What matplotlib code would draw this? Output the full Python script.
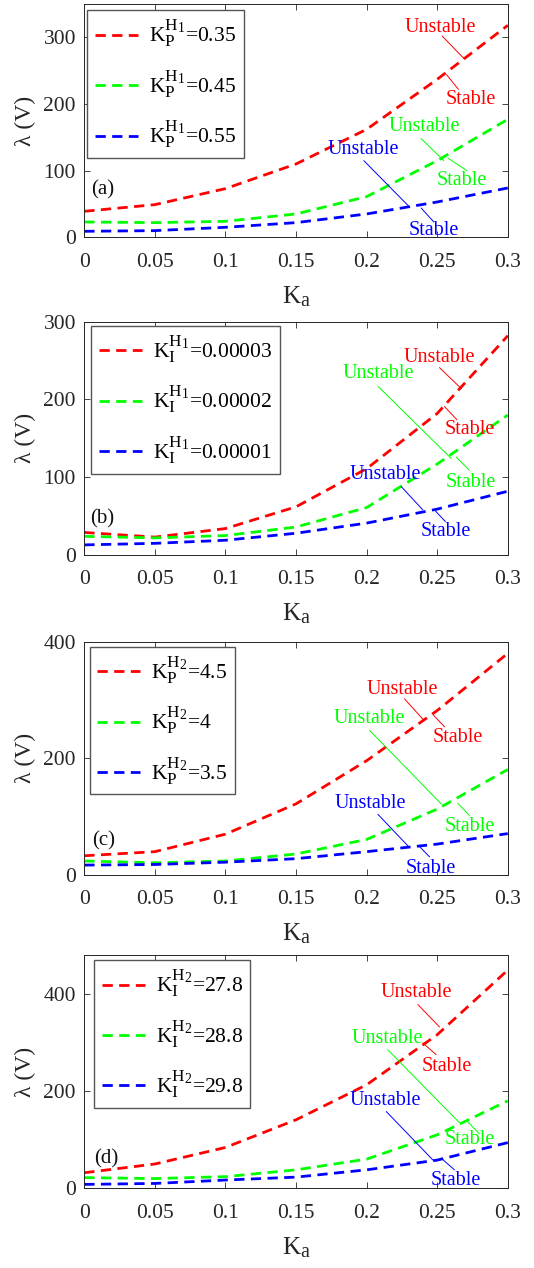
import matplotlib
matplotlib.use("Agg")
import matplotlib.pyplot as plt
import matplotlib._mathtext as _mt

_mt.SHRINK_FACTOR = 0.8

plt.rcParams['font.family'] = ['Liberation Serif', 'DejaVu Serif']
plt.rcParams['mathtext.fontset'] = 'custom'
plt.rcParams['mathtext.rm'] = 'Liberation Serif'
plt.rcParams['mathtext.it'] = 'Liberation Serif:italic'

# ---------------- data ----------------
ka = [0, 0.05, 0.10, 0.15, 0.20, 0.25, 0.30]

a_labels = [r'$\mathrm{K_P^{H_1}}$=0.35', r'$\mathrm{K_P^{H_1}}$=0.45', r'$\mathrm{K_P^{H_1}}$=0.55']
a_red = [39, 49, 73, 110, 162, 237, 318]
a_green = [23, 22, 24, 35, 61, 115, 177]
a_blue = [9, 10, 15, 22, 35, 53, 74]

b_labels = [r'$\mathrm{K_I^{H_1}}$=0.00003', r'$\mathrm{K_I^{H_1}}$=0.00002', r'$\mathrm{K_I^{H_1}}$=0.00001']
b_red = [29, 23, 34, 62, 111, 182, 282]
b_green = [24, 22, 25, 36, 61, 117, 180]
b_blue = [13, 15, 19, 28, 41, 59, 82]

c_labels = [r'$\mathrm{K_P^{H_2}}$=4.5', r'$\mathrm{K_P^{H_2}}$=4', r'$\mathrm{K_P^{H_2}}$=3.5']
c_red = [33, 40, 70, 122, 196, 282, 380]
c_green = [24, 21, 24, 36, 61, 113, 181]
c_blue = [17, 18, 22, 28, 40, 53, 71]

d_labels = [r'$\mathrm{K_I^{H_2}}$=27.8', r'$\mathrm{K_I^{H_2}}$=28.8', r'$\mathrm{K_I^{H_2}}$=29.8']
d_red = [32, 50, 84, 141, 213, 316, 449]
d_green = [22, 20, 24, 38, 60, 110, 180]
d_blue = [8, 10, 17, 23, 38, 58, 94]

panel_tags = ['(a)', '(b)', '(c)', '(d)']
ylims = [350, 300, 400, 480]
yticks = [[0, 100, 200, 300], [0, 100, 200, 300], [0, 200, 400], [0, 200, 400]]
xticks = [0, 0.05, 0.1, 0.15, 0.2, 0.25, 0.3]
xtick_labels = ['0', '0.05', '0.1', '0.15', '0.2', '0.25', '0.3']

# annotations: (text, text_x, text_y, line_x0, line_y0, line_x1, line_y1), per colour
ann_a = [
    [('Unstable', 0.2523, 315, 0.2535, 302, 0.269, 268), ('Stable', 0.274, 207, 0.265, 222, 0.2566, 244)],
    [('Unstable', 0.241, 166, 0.2386, 148, 0.2547, 115), ('Stable', 0.2677, 85, 0.271, 100, 0.2575, 119)],
    [('Unstable', 0.198, 131, 0.198, 115, 0.2306, 45), ('Stable', 0.2476, 10, 0.2476, 23, 0.2386, 44)],
]
ann_b = [
    [('Unstable', 0.2516, 254, 0.2516, 241, 0.267, 214), ('Stable', 0.2733, 161, 0.2639, 174, 0.2551, 191)],
    [('Unstable', 0.208, 234, 0.208, 217, 0.260, 124), ('Stable', 0.274, 93, 0.2728, 109, 0.2634, 126)],
    [('Unstable', 0.2134, 103, 0.2245, 88, 0.2398, 58), ('Stable', 0.2563, 30, 0.2558, 43, 0.248, 58)],
]
ann_c = [
    [('Unstable', 0.2252, 318, 0.2268, 302, 0.2403, 266), ('Stable', 0.2646, 236, 0.2552, 254, 0.2474, 274)],
    [('Unstable', 0.2021, 268, 0.2021, 248, 0.2528, 122), ('Stable', 0.2728, 84, 0.2728, 102, 0.2646, 123)],
    [('Unstable', 0.2026, 123, 0.208, 104, 0.2292, 50), ('Stable', 0.2457, 11, 0.2446, 31, 0.237, 50)],
]
ann_d = [
    [('Unstable', 0.2351, 402, 0.2363, 378, 0.2516, 332), ('Stable', 0.2568, 251, 0.2492, 275, 0.2398, 299)],
    [('Unstable', 0.215, 309, 0.215, 285, 0.2657, 135), ('Stable', 0.2728, 100, 0.2799, 112, 0.2716, 137)],
    [('Unstable', 0.2134, 180, 0.2139, 158, 0.247, 58), ('Stable', 0.2634, 16, 0.2622, 38, 0.2528, 62)],
]
tag_pos = [(0.0132, 71), (0.013, 47), (0.0134, 58), (0.0158, 60)]
legend_anchor = [(0.007, 0.974), (0.0158, 0.983), (0.0125, 0.979), (0.0229, 0.979)]

panels = [
    (a_labels, [a_red, a_green, a_blue], ann_a),
    (b_labels, [b_red, b_green, b_blue], ann_b),
    (c_labels, [c_red, c_green, c_blue], ann_c),
    (d_labels, [d_red, d_green, d_blue], ann_d),
]
colors = ['#ff0000', '#00ff00', '#0000ff']

# ---------------- figure ----------------
W, H = 534, 1268
fig = plt.figure(figsize=(W / 100, H / 100), dpi=100)
ax_tops = [4, 321.7, 641.7, 955]
ax_h = 233.3
ax_left, ax_w = 84.3, 423.5
tick_c = '#262626'

for i, (labels, series, anns) in enumerate(panels):
    top = ax_tops[i]
    ax = fig.add_axes([ax_left / W, (H - top - ax_h) / H, ax_w / W, ax_h / H])
    for lab, ys, c in zip(labels, series, colors):
        ax.plot(ka, ys, color=c, lw=2.0, ls=(0, (3.7, 2.3)), label=lab)
    for group, c in zip(anns, colors):
        for (t, tx, ty, x0, y0, x1, y1) in group:
            ax.annotate('', xy=(x1, y1), xytext=(x0, y0),
                        arrowprops=dict(arrowstyle='-', color=c, lw=0.7,
                                        shrinkA=0, shrinkB=0))
            ax.text(tx, ty, t, color=c, fontsize=14.5, ha='center', va='center')
    ax.text(tag_pos[i][0], tag_pos[i][1], panel_tags[i], fontsize=15,
            color='#111111', ha='center', va='center')
    ax.set_xlim(0, 0.3)
    ax.set_ylim(0, ylims[i])
    ax.set_xticks(xticks)
    ax.set_xticklabels(xtick_labels)
    ax.set_yticks(yticks[i])
    ax.tick_params(direction='in', top=True, right=True, length=4, width=0.6,
                   labelsize=15.5, colors=tick_c, labelcolor=tick_c)
    ax.tick_params(axis='x', pad=11)
    ax.tick_params(axis='y', pad=6)
    for s in ax.spines.values():
        s.set_color(tick_c)
        s.set_linewidth(0.7)
    ax.set_xlabel(r'$\mathrm{K_a}$', fontsize=18, color=tick_c, labelpad=9)
    ax.set_ylabel('λ (V)', fontsize=17, color=tick_c, labelpad=5)
    leg = ax.legend(loc='upper left', bbox_to_anchor=legend_anchor[i],
                    borderaxespad=0, fontsize=15.5, handlelength=2.0,
                    handletextpad=0.5, labelspacing=0.88, borderpad=0.36,
                    frameon=True, fancybox=False, edgecolor='#555555',
                    framealpha=1)
    leg.get_frame().set_linewidth(1.0)

fig.savefig('out.png', dpi=100)
